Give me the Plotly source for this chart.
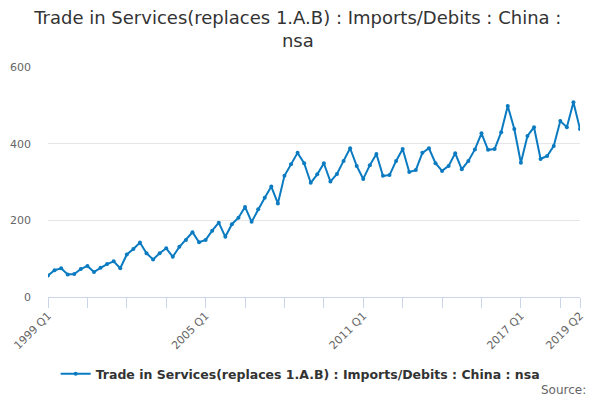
import plotly.graph_objects as go

title = "Trade in Services(replaces 1.A.B) : Imports/Debits : China : nsa"

# quarters 1999 Q1 .. 2019 Q2
quarters = [f"{y} Q{q}" for y in range(1999, 2020) for q in range(1, 5)][:82]

values = [
    56, 70, 75, 59, 60, 73, 81, 65, 76, 86,
    93, 75, 111, 125, 142, 114, 98, 114, 127, 105,
    131, 149, 169, 143, 149, 173, 194, 157, 190, 207,
    235, 196, 229, 259, 288, 244, 316, 346, 376, 349,
    298, 320, 349, 301, 321, 355, 388, 342, 308, 344,
    373, 316, 318, 355, 386, 326, 331, 376, 388, 349,
    329, 342, 375, 333, 355, 385, 427, 384, 386, 430,
    498, 438, 350, 420, 443, 360, 368, 394, 459, 443,
    508, 438,
]

tick_labels = ["1999 Q1", "2005 Q1", "2011 Q1", "2017 Q1", "2019 Q2"]

# tick every 6 quarters, label every 24th plus the last one
tick_idx = list(range(0, 82, 6)) + [81]
tick_text = []
for i in tick_idx:
    q = quarters[i]
    tick_text.append(q if q in tick_labels else "")

fig = go.Figure()
fig.add_trace(
    go.Scatter(
        x=quarters,
        y=values,
        mode="lines+markers",
        line=dict(color="#0b7bc1", width=2),
        marker=dict(color="#0b7bc1", size=4),
        name=title,
    )
)

# page body adds ~8px offset, margins are shifted to compensate
fig.update_layout(
    width=600,
    height=400,
    paper_bgcolor="white",
    plot_bgcolor="white",
    font=dict(family="DejaVu Sans", color="#333333"),
    title=dict(
        text="Trade in Services(replaces 1.A.B) : Imports/Debits : China :<br>nsa",
        x=0.483,
        xanchor="center",
        y=0.96,
        yanchor="top",
        font=dict(size=18, color="#333333"),
    ),
    margin=dict(l=40, r=28, t=59, b=111),
    showlegend=True,
    legend=dict(
        orientation="h",
        x=0.474,
        xanchor="center",
        y=-0.335,
        yanchor="middle",
        itemwidth=30,
        font=dict(size=12.5, color="#333333", weight="bold"),
    ),
    xaxis=dict(
        type="category",
        range=[0, 81],
        automargin=False,
        tickmode="array",
        tickvals=[quarters[i] for i in tick_idx],
        ticktext=tick_text,
        tickangle=-45,
        ticks="outside",
        ticklen=10,
        tickcolor="#ccd6eb",
        showline=True,
        linecolor="#ccd6eb",
        showgrid=False,
        tickfont=dict(size=11, color="#666666"),
        ticklabelstandoff=-3,
    ),
    yaxis=dict(
        range=[0, 600],
        automargin=False,
        tickvals=[0, 200, 400, 600],
        showgrid=True,
        gridcolor="#e6e6e6",
        zeroline=False,
        tickfont=dict(size=11, color="#666666"),
        ticklabelstandoff=16,
    ),
    annotations=[
        dict(
            text="Source:",
            x=1.015,
            xref="paper",
            xanchor="right",
            y=-0.404,
            yref="paper",
            yanchor="middle",
            showarrow=False,
            font=dict(size=12, color="#666666"),
        )
    ],
)

fig.write_html("out.html")
